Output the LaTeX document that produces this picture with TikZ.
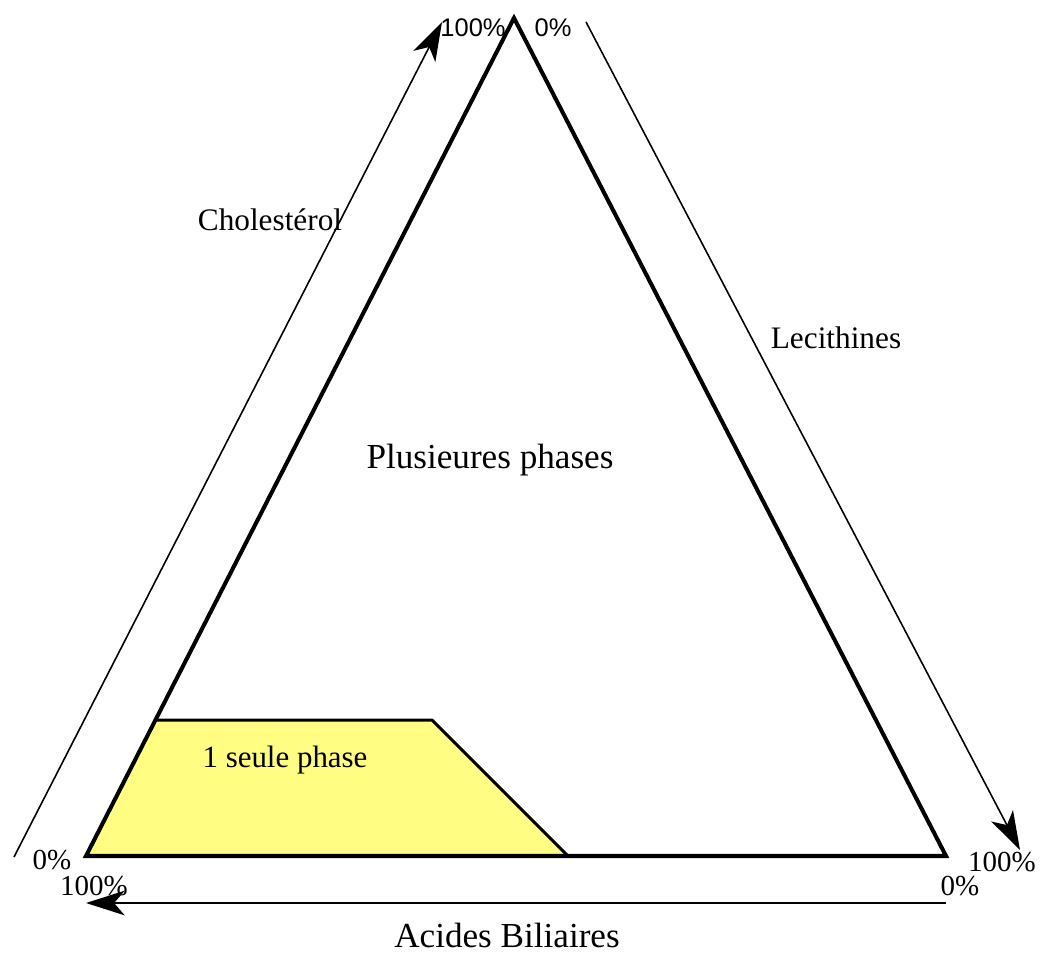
\documentclass[tikz,border=0pt]{standalone}
\usepackage{fontspec}
\setmainfont{Liberation Serif}
\newfontfamily\pctsans{Liberation Sans}
\usetikzlibrary{arrows.meta}
\definecolor{phaseyellow}{RGB}{255,253,130}
\tikzset{
  side/.style={line width=2.3pt, line join=miter},
  axis/.style={line width=0.9pt, -{Stealth[length=22pt, width=14pt, inset=6pt]}},
  lbl/.style={font=\fontsize{18.5}{20}\selectfont, inner sep=0pt},
  pct/.style={font=\fontsize{16.5}{18}\selectfont, inner sep=0pt},
  pcts/.style={font=\pctsans\fontsize{14.5}{16}\selectfont, inner sep=0pt}
}
\begin{document}
\begin{tikzpicture}[x=0.02cm, y=-0.02cm]
			\useasboundingbox (0,0) rectangle (1041,953);
			% Vertices
			\coordinate (top) at (514,18);
			\coordinate (bl) at (86,856);
			\coordinate (br) at (946,856);
			% Single phase region
			\coordinate (p1) at (157,720);
			\coordinate (p2) at (432,720);
			\coordinate (p3) at (568,856);
			\fill[phaseyellow] (bl) -- (p1) -- (p2) -- (p3) -- cycle;
			\draw[line width=1.7pt] (p1) -- (p2) -- (p3);
			% Triangle
			\draw[side] (top) -- (br) -- (bl) -- cycle;
			% Axes
			\coordinate (c0) at (14,857);
			\coordinate (c1) at (442,22);
			\coordinate (l0) at (586,22);
			\coordinate (l1) at (1020,850);
			\coordinate (a0) at (946,903);
			\coordinate (a1) at (86,903);
			\draw[axis] (c0) -- (c1);
			\draw[axis] (l0) -- (l1);
			\draw[axis] (a0) -- (a1);
			% Labels
			\node[lbl, font=\fontsize{17.8}{20}\selectfont] (chol) at (270,220) {Cholestérol};
			\node[lbl, font=\fontsize{17.8}{20}\selectfont] (leci) at (836,338) {Lecithines};
			\node[lbl, font=\fontsize{20}{22}\selectfont] (plus) at (490,460) {Plusieures phases};
			\node[lbl, font=\fontsize{17.6}{20}\selectfont] (seule) at (285,760) {1 seule phase};
			\node[lbl, font=\fontsize{20}{22}\selectfont] (acid) at (507,935) {Acides Biliaires};
			% Percentages
			\node[pcts] (ctop) at (473,28) {100\%};
			\node[pcts] (ltop) at (553,28) {0\%};
			\node[pct] (cbot) at (52,860) {0\%};
			\node[pct] (abot) at (94,886) {100\%};
			\node[pct] (lbot) at (1002,862) {100\%};
			\node[pct] (atop) at (960,886) {0\%};
		\end{tikzpicture}
\end{document}
